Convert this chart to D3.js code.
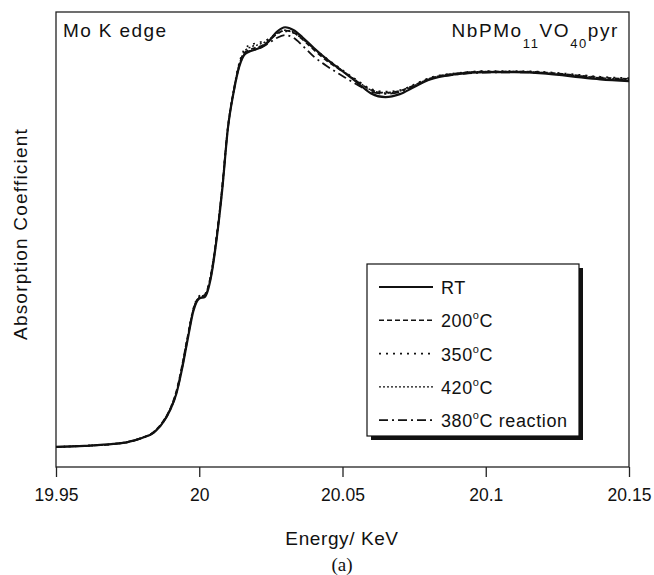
<!DOCTYPE html>
<html>
<head>
<meta charset="utf-8">
<script src="https://cdn.jsdelivr.net/npm/d3@7"></script>
<style>
  body { margin: 0; background: #fff; }
  text { font-family: "Liberation Sans", Arial, sans-serif; fill: #111; }
</style>
</head>
<body>
<div id="chart"></div>
<script>
// energy grid (keV) shared by all spectra
const energy = [19.95, 19.96, 19.97, 19.975, 19.98, 19.984, 19.987, 19.99, 19.992, 19.994,
  19.996, 19.998, 20.0, 20.002, 20.004, 20.006, 20.008, 20.010, 20.012, 20.014,
  20.016, 20.018, 20.021, 20.024, 20.027, 20.030, 20.033, 20.036, 20.040, 20.045,
  20.050, 20.055, 20.060, 20.065, 20.070, 20.075, 20.080, 20.090, 20.100, 20.110,
  20.120, 20.130, 20.140, 20.150];

// normalised absorption
const rtValues = [0.000, 0.003, 0.008, 0.013, 0.024, 0.038, 0.062, 0.102, 0.143, 0.210,
  0.291, 0.367, 0.399, 0.404, 0.453, 0.555, 0.690, 0.857, 0.954, 1.024,
  1.057, 1.065, 1.073, 1.089, 1.116, 1.129, 1.121, 1.102, 1.073, 1.040,
  1.011, 0.981, 0.951, 0.941, 0.949, 0.968, 0.987, 1.003, 1.008, 1.008,
  1.005, 0.997, 0.989, 0.984];
const t200Values = [0.000, 0.003, 0.008, 0.014, 0.025, 0.040, 0.065, 0.106, 0.150, 0.220,
  0.300, 0.372, 0.402, 0.410, 0.462, 0.565, 0.700, 0.862, 0.958, 1.030,
  1.062, 1.070, 1.077, 1.090, 1.110, 1.120, 1.114, 1.096, 1.068, 1.036,
  1.010, 0.984, 0.960, 0.953, 0.958, 0.973, 0.990, 1.005, 1.010, 1.010,
  1.008, 1.001, 0.994, 0.990];
const t350Values = [0.000, 0.003, 0.008, 0.013, 0.024, 0.039, 0.064, 0.104, 0.147, 0.216,
  0.298, 0.375, 0.406, 0.412, 0.460, 0.562, 0.698, 0.860, 0.960, 1.035,
  1.072, 1.082, 1.088, 1.097, 1.112, 1.118, 1.113, 1.098, 1.072, 1.042,
  1.014, 0.987, 0.963, 0.956, 0.960, 0.975, 0.992, 1.006, 1.011, 1.011,
  1.009, 1.003, 0.996, 0.992];
const t420Values = [0.000, 0.003, 0.008, 0.013, 0.024, 0.039, 0.063, 0.104, 0.146, 0.214,
  0.296, 0.372, 0.403, 0.409, 0.458, 0.560, 0.695, 0.858, 0.957, 1.030,
  1.066, 1.076, 1.083, 1.094, 1.112, 1.121, 1.116, 1.099, 1.071, 1.040,
  1.012, 0.985, 0.960, 0.952, 0.957, 0.972, 0.990, 1.005, 1.010, 1.010,
  1.007, 1.000, 0.993, 0.988];
const t380rValues = [0.000, 0.003, 0.008, 0.013, 0.024, 0.038, 0.062, 0.102, 0.144, 0.212,
  0.294, 0.370, 0.401, 0.407, 0.456, 0.558, 0.693, 0.858, 0.955, 1.026,
  1.058, 1.066, 1.072, 1.085, 1.100, 1.108, 1.100, 1.080, 1.050, 1.022,
  0.998, 0.975, 0.955, 0.950, 0.955, 0.970, 0.988, 1.002, 1.007, 1.008,
  1.006, 0.999, 0.992, 0.987];

const xTicks = [19.95, 20, 20.05, 20.1, 20.15];

const series = [
  { name: "RT", values: rtValues, dash: null, width: 2.2, label: "RT", deg: false },
  { name: "200", values: t200Values, dash: "5,3", width: 1.6, label: "200", deg: true, suffix: "C" },
  { name: "350", values: t350Values, dash: "2,5", width: 1.6, label: "350", deg: true, suffix: "C" },
  { name: "420", values: t420Values, dash: "2,2", width: 1.4, label: "420", deg: true, suffix: "C" },
  { name: "380", values: t380rValues, dash: "9,4,2,4", width: 1.8, label: "380", deg: true, suffix: "C reaction" }
];

const W = 654, H = 575;
const margin = { top: 12, right: 25, bottom: 108, left: 56 };
const width = W - margin.left - margin.right;
const height = H - margin.top - margin.bottom;

const svg = d3.select("#chart").append("svg")
  .attr("width", W).attr("height", H);

const g = svg.append("g").attr("transform", `translate(${margin.left},${margin.top})`);

const x = d3.scaleLinear().domain([19.95, 20.15]).range([0, width]);
const y = d3.scaleLinear().domain([-0.054, 1.17]).range([height, 0]);

// frame
g.append("rect")
  .attr("x", 0).attr("y", 0).attr("width", width).attr("height", height)
  .attr("fill", "none").attr("stroke", "#222").attr("stroke-width", 1.3);

// x axis
g.append("g")
  .attr("transform", `translate(0,${height})`)
  .call(d3.axisBottom(x).tickValues(xTicks).tickSize(10).tickPadding(12).tickFormat(d => String(+d.toFixed(2))))
  .call(a => a.select(".domain").remove())
  .call(a => a.selectAll("line").attr("stroke", "#222").attr("stroke-width", 1.3))
  .call(a => a.selectAll("text").attr("fill", "#111").style("font-size", "17.5px")
    .style("font-family", '"Liberation Sans", Arial, sans-serif'));

// curves
const line = d3.line()
  .x((d, i) => x(energy[i]))
  .y(d => y(d))
  .curve(d3.curveMonotoneX);

series.slice().reverse().forEach(s => {
  g.append("path")
    .datum(s.values)
    .attr("d", line)
    .attr("fill", "none")
    .attr("stroke", "#111")
    .attr("stroke-width", s.width)
    .attr("stroke-dasharray", s.dash);
});

// axis titles
svg.append("text")
  .attr("x", 342).attr("y", 545)
  .attr("text-anchor", "middle")
  .style("font-size", "19px").style("letter-spacing", "0.6px")
  .text("Energy/ KeV");

svg.append("text")
  .attr("x", 342).attr("y", 571)
  .attr("text-anchor", "middle")
  .style("font-family", '"Liberation Serif", "Times New Roman", serif')
  .style("font-size", "19px")
  .text("(a)");

svg.append("text")
  .attr("transform", "translate(27,234) rotate(-90)")
  .attr("text-anchor", "middle")
  .style("font-size", "19px").style("letter-spacing", "1.2px")
  .text("Absorption Coefficient");

// in-plot labels
svg.append("text")
  .attr("x", 63).attr("y", 37)
  .style("font-size", "19px").style("letter-spacing", "1.4px")
  .text("Mo K edge");

const formula = svg.append("text")
  .attr("x", 619).attr("y", 37)
  .attr("text-anchor", "end")
  .style("font-size", "19px").style("letter-spacing", "1.6px");
formula.append("tspan").text("NbPMo");
formula.append("tspan").attr("dy", 11).style("font-size", "13px").text("11");
formula.append("tspan").attr("dy", -11).text("VO");
formula.append("tspan").attr("dy", 11).style("font-size", "13px").text("40");
formula.append("tspan").attr("dy", -11).text("pyr");

// legend
const legend = svg.append("g").attr("transform", "translate(367,264)");
const lw = 212, lh = 172;
legend.append("rect")
  .attr("x", 4).attr("y", 4).attr("width", lw).attr("height", lh)
  .attr("fill", "#111");
legend.append("rect")
  .attr("x", 0).attr("y", 0).attr("width", lw).attr("height", lh)
  .attr("fill", "#fff").attr("stroke", "#111").attr("stroke-width", 1.2);

series.forEach((s, i) => {
  const cy = 23 + i * 33.3;
  legend.append("line")
    .attr("x1", 12).attr("x2", 66)
    .attr("y1", cy).attr("y2", cy)
    .attr("stroke", "#111")
    .attr("stroke-width", s.width)
    .attr("stroke-dasharray", s.dash);
  const t = legend.append("text")
    .attr("x", 74).attr("y", cy + 7)
    .style("font-size", "18px").style("letter-spacing", "0.6px");
  t.append("tspan").text(s.label);
  if (s.deg) {
    t.append("tspan").attr("dy", -8).style("font-size", "11px").text("o");
    t.append("tspan").attr("dy", 8).text(s.suffix);
  }
});
</script>
</body>
</html>
